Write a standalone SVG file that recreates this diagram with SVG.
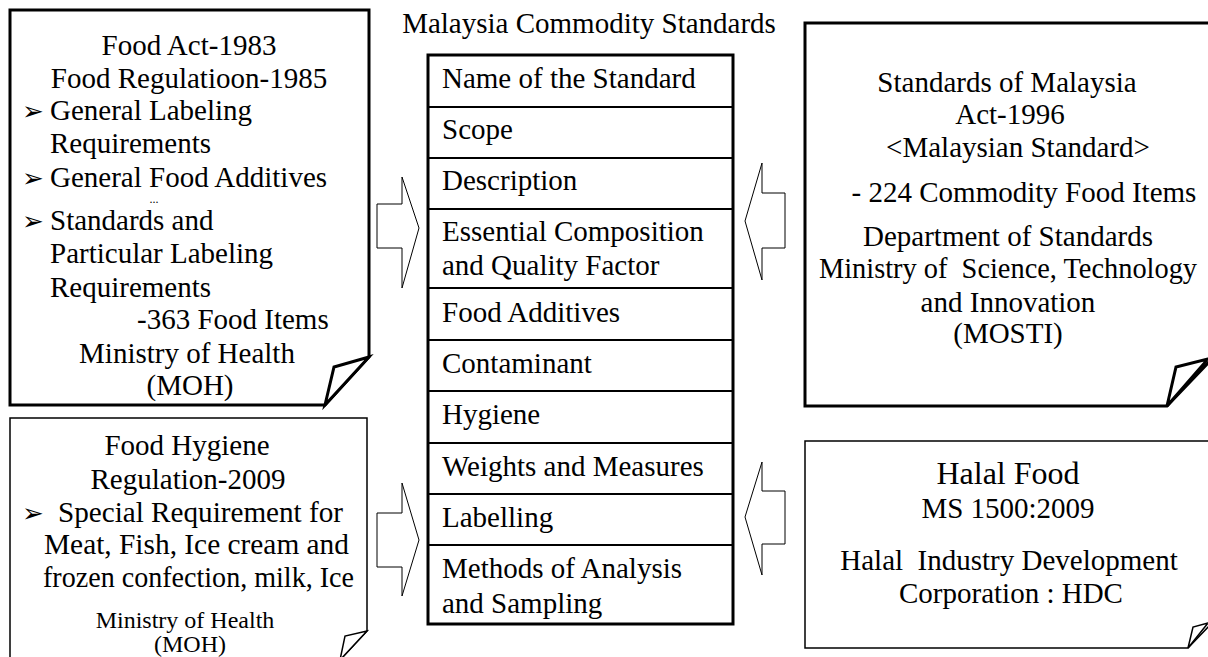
<svg xmlns="http://www.w3.org/2000/svg" width="1208" height="657" viewBox="0 0 1208 657">
<style>
text{font-family:"Liberation Serif","Times New Roman",serif;font-size:29px;fill:#000}
.c{text-anchor:middle}
.sm{font-size:24px}
.big{font-size:32px}
.bul{font-family:"DejaVu Sans",sans-serif;font-size:26px}
.dots{font-size:12px}
.thick{fill:#fff;stroke:#000;stroke-width:3;stroke-linejoin:miter}
.thin{fill:#fff;stroke:#000;stroke-width:1.5}
.fold{fill:#fff;stroke:#000;stroke-linejoin:miter}
.row{stroke:#000;stroke-width:2}
.arrow{fill:#fff;stroke:#000;stroke-width:1}
</style>
<rect width="1208" height="657" fill="#fff"/>

<g id="food-act">
<path class="thick" d="M10,10 H369 V357 L325,405 H10 Z"/>
<path class="fold" stroke-width="3" d="M369,357 L334,367 L325,405 Z"/>
<text class="c" x="189" y="55">Food Act-1983</text>
<text class="c" x="189" y="88">Food Regulatioon-1985</text>
<text class="bul" x="22" y="120">➢</text>
<text x="50" y="120">General Labeling</text>
<text x="50" y="153">Requirements</text>
<text class="bul" x="22" y="187">➢</text>
<text x="50" y="187">General Food Additives</text>
<text class="dots c" x="154" y="203">...</text>
<text class="bul" x="22" y="230">➢</text>
<text x="50" y="230">Standards and</text>
<text x="50" y="263">Particular Labeling</text>
<text x="50" y="297">Requirements</text>
<text x="137" y="329">-363 Food Items</text>
<text class="c" x="187" y="363">Ministry of Health</text>
<text class="c" x="190" y="395">(MOH)</text>
</g>

<g id="food-hygiene">
<path class="thin" d="M10,418 H367 V631 L340,660 H10 Z"/>
<path class="fold" stroke-width="1.5" d="M367,631 L345,636 L340,660 Z"/>
<text class="c" x="187" y="455">Food Hygiene</text>
<text class="c" x="188" y="489">Regulation-2009</text>
<text class="bul" x="22" y="522">➢</text>
<text x="58" y="522" textLength="285" lengthAdjust="spacingAndGlyphs">Special Requirement for</text>
<text x="44" y="554" textLength="305" lengthAdjust="spacingAndGlyphs">Meat, Fish, Ice cream and</text>
<text x="43" y="587" textLength="311" lengthAdjust="spacingAndGlyphs">frozen confection, milk, Ice</text>
<text class="c sm" x="185" y="628">Ministry of Health</text>
<text class="c sm" x="190" y="652">(MOH)</text>
</g>

<g id="title">
<text class="c" x="589" y="33">Malaysia Commodity Standards</text>
</g>

<g id="standards-table">
<rect x="428" y="55" width="305" height="569" fill="#fff" stroke="#000" stroke-width="3"/>
<line class="row" x1="428" y1="107" x2="733" y2="107"/>
<line class="row" x1="428" y1="158" x2="733" y2="158"/>
<line class="row" x1="428" y1="209" x2="733" y2="209"/>
<line class="row" x1="428" y1="288" x2="733" y2="288"/>
<line class="row" x1="428" y1="340" x2="733" y2="340"/>
<line class="row" x1="428" y1="391" x2="733" y2="391"/>
<line class="row" x1="428" y1="443" x2="733" y2="443"/>
<line class="row" x1="428" y1="494" x2="733" y2="494"/>
<line class="row" x1="428" y1="545" x2="733" y2="545"/>
<text x="442" y="88">Name of the Standard</text>
<text x="442" y="139">Scope</text>
<text x="442" y="190">Description</text>
<text x="442" y="241">Essential Composition</text>
<text x="442" y="275">and Quality Factor</text>
<text x="442" y="322">Food Additives</text>
<text x="442" y="373">Contaminant</text>
<text x="442" y="424">Hygiene</text>
<text x="442" y="476">Weights and Measures</text>
<text x="442" y="527">Labelling</text>
<text x="442" y="578">Methods of Analysis</text>
<text x="442" y="613">and Sampling</text>
</g>

<g id="standards-act">
<path class="thick" d="M805,23 H1212 V359 L1167,406 H805 Z"/>
<path class="fold" stroke-width="3" d="M1208,359 L1176,367 L1167,406 Z"/>
<text class="c" x="1007" y="92">Standards of Malaysia</text>
<text class="c" x="1010" y="124">Act-1996</text>
<text class="c" x="1018" y="157">&lt;Malaysian Standard&gt;</text>
<text class="c" x="1024" y="202">- 224 Commodity Food Items</text>
<text class="c" x="1008" y="246">Department of Standards</text>
<text class="c" x="1008" y="278" xml:space="preserve" textLength="378" lengthAdjust="spacingAndGlyphs">Ministry of  Science, Technology</text>
<text class="c" x="1008" y="312">and Innovation</text>
<text class="c" x="1008" y="343">(MOSTI)</text>
</g>

<g id="halal-food">
<path class="thin" d="M805,441 H1212 V623 L1188,648 H805 Z"/>
<path class="fold" stroke-width="1.5" d="M1208,623 L1193,627 L1188,648 Z"/>
<text class="c big" x="1008" y="484">Halal Food</text>
<text class="c" x="1008" y="518">MS 1500:2009</text>
<text class="c" x="1009" y="570" xml:space="preserve">Halal  Industry Development</text>
<text class="c" x="1011" y="603">Corporation : HDC</text>
</g>

<g id="connectors">
<path class="arrow" d="M377,204 H402 V177 L419,228 L402,288 V248 H377 Z"/>
<path class="arrow" d="M377,513 H402 V483 L419,540 L402,596 V567 H377 Z"/>
<path class="arrow" d="M785,193 H762 V163 L745,221 L762,280 V248 H785 Z"/>
<path class="arrow" d="M785,491 H762 V462 L745,517 L762,575 V544 H785 Z"/>
</g>
</svg>
